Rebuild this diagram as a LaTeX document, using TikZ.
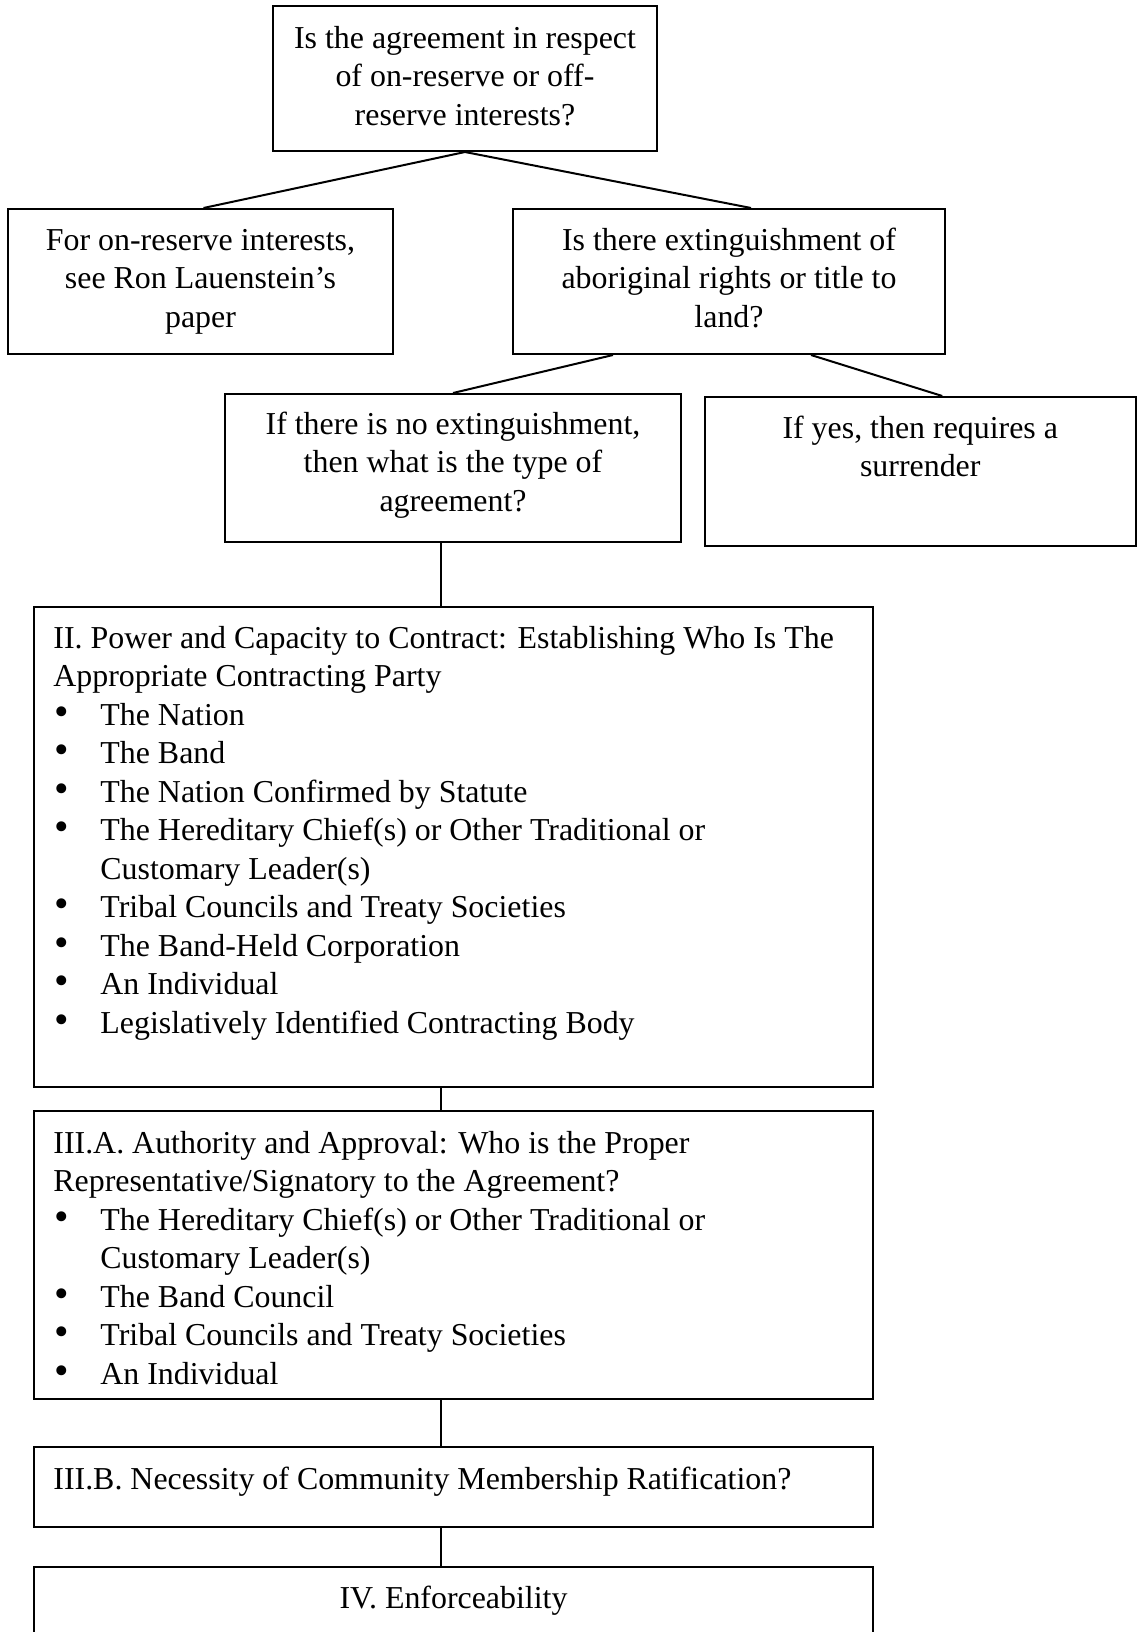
\documentclass[tikz,border=0pt]{standalone}
\usepackage{fontspec}
\usepackage{graphicx}
\setmainfont{Liberation Serif}
\usetikzlibrary{calc}
\newcommand\bul{\makebox[23.5pt][l]{\hspace{0.5pt}\scalebox{1.3}{•}}}
\newcommand\indt{\hspace*{23.5pt}}
\newcommand\fst{\rule{0pt}{13pt}}
\begin{document}
\begin{tikzpicture}[x={(0.5pt,0)}, y={(0,-0.5pt)},
  box/.style={draw, line width=1pt, rectangle, inner sep=0pt, anchor=north west},
  link/.style={line width=1pt},
  ctext/.style={anchor=north, inner sep=0pt, align=center, font=\fontsize{15.95pt}{19.25pt}\selectfont},
  ltext/.style={anchor=north west, inner sep=0pt, align=left, font=\fontsize{15.95pt}{19.25pt}\selectfont}]
\fill[white] (0,0) rectangle (1136,1632);
\useasboundingbox (0,0) rectangle (1136,1632);
% boxes
\node[box, minimum width=192pt, minimum height=72.5pt] (b1) at (272,5) {};
\node[box, minimum width=192.5pt, minimum height=72.5pt] (b2) at (7,208) {};
\node[box, minimum width=216pt, minimum height=72.5pt] (b3) at (512,208) {};
\node[box, minimum width=228pt, minimum height=74pt] (b4) at (224,393) {};
\node[box, minimum width=215.25pt, minimum height=74.5pt] (b5) at (704,396) {};
\node[box, minimum width=419.5pt, minimum height=240pt] (b6) at (33,606) {};
\node[box, minimum width=419.5pt, minimum height=144pt] (b7) at (33,1110) {};
\node[box, minimum width=419.5pt, minimum height=40pt] (b8) at (33,1446) {};
\node[box, minimum width=419.5pt, minimum height=47pt] (b9) at (33,1566) {};
% texts
\node[ctext] (t1) at ($(b1.north)+(0,17)$) {\fst Is the agreement in respect\\of on-reserve or off-\\reserve interests?};
\node[ctext] (t2) at ($(b2.north)+(0,16)$) {\fst For on-reserve interests,\\see Ron Lauenstein’s\\paper};
\node[ctext] (t3) at ($(b3.north)+(0,16)$) {\fst Is there extinguishment of\\aboriginal rights or title to\\land?};
\node[ctext] (t4) at ($(b4.north)+(0,15)$) {\fst If there is no extinguishment,\\then what is the type of\\agreement?};
\node[ctext] (t5) at ($(b5.north)+(0,16)$) {\fst If yes, then requires a\\surrender};
\node[ltext] (t6) at ($(b6.north west)+(20,16)$) {\fst II. Power and Capacity to Contract: Establishing Who Is The\\Appropriate Contracting Party\\
\bul The Nation\\
\bul The Band\\
\bul The Nation Confirmed by Statute\\
\bul The Hereditary Chief(s) or Other Traditional or\\
\indt Customary Leader(s)\\
\bul Tribal Councils and Treaty Societies\\
\bul The Band-Held Corporation\\
\bul An Individual\\
\bul Legislatively Identified Contracting Body};
\node[ltext] (t7) at ($(b7.north west)+(20,17)$) {\fst III.A. Authority and Approval: Who is the Proper\\Representative/Signatory to the Agreement?\\
\bul The Hereditary Chief(s) or Other Traditional or\\
\indt Customary Leader(s)\\
\bul The Band Council\\
\bul Tribal Councils and Treaty Societies\\
\bul An Individual};
\node[ltext] (t8) at ($(b8.north west)+(20,17)$) {\fst III.B. Necessity of Community Membership Ratification?};
\node[ctext] (t9) at ($(b9.north)+(0,16)$) {\fst IV. Enforceability};
% connectors
\draw[link] (b1.south) -- ($(b2.north)+(3,0)$);
\draw[link] (b1.south) -- ($(b3.north)+(22,0)$);
\draw[link] ($(b3.south)+(-116,0)$) -- (b4.north);
\draw[link] ($(b3.south)+(82,0)$) -- ($(b5.north)+(22,0)$);
\coordinate (v4) at ($(b4.south)+(-12,0)$);
\coordinate (v6) at ($(b6.south)+(-12.5,0)$);
\coordinate (v7) at ($(b7.south)+(-12.5,0)$);
\coordinate (v8) at ($(b8.south)+(-12.5,0)$);
\draw[link] (v4) -- (v4 |- b6.north);
\draw[link] (v6) -- (v6 |- b7.north);
\draw[link] (v7) -- (v7 |- b8.north);
\draw[link] (v8) -- (v8 |- b9.north);
\end{tikzpicture}
\end{document}
